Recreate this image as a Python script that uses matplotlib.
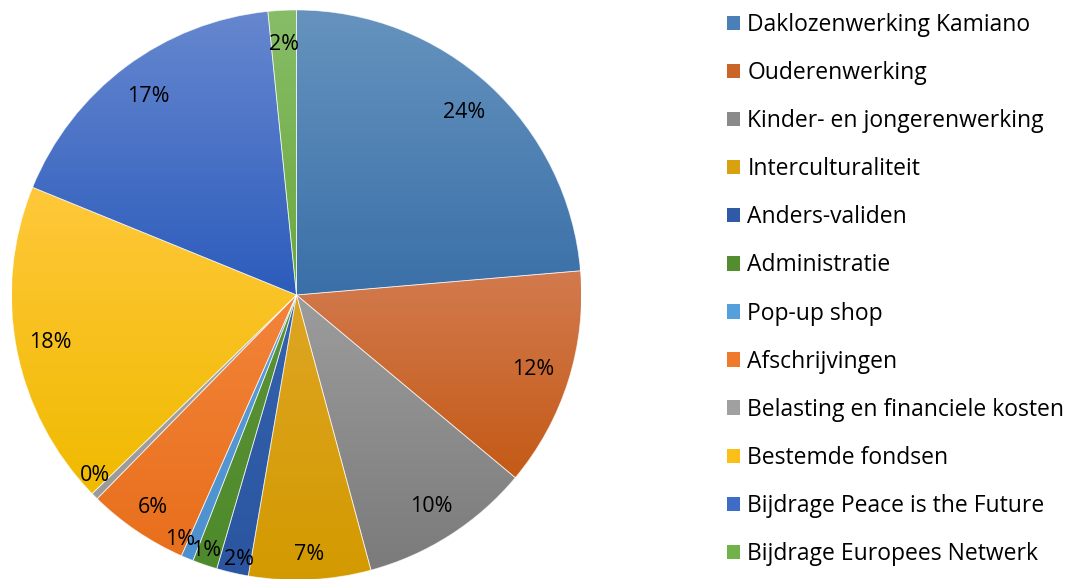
import numpy as np
import matplotlib
matplotlib.use("Agg")
import matplotlib.pyplot as plt
from matplotlib.patches import Patch
from matplotlib.colors import to_rgb

plt.rcParams['font.family'] = ['Open Sans', 'DejaVu Sans']

labels = ["Daklozenwerking Kamiano", "Ouderenwerking", "Kinder- en jongerenwerking",
          "Interculturaliteit", "Anders-validen", "Administratie", "Pop-up shop",
          "Afschrijvingen", "Belasting en financiele kosten", "Bestemde fondsen",
          "Bijdrage Peace is the Future", "Bijdrage Europees Netwerk"]
values = [23.6, 12.4, 9.7, 6.9, 1.8, 1.4, 0.7, 5.7, 0.4, 18.4, 17.2, 1.6]

# top / bottom colours of each slice's gradient
top_cols = ["#6693be", "#d27a4e", "#9c9c9c", "#dea524", "#3563ae", "#5c9337",
            "#5e9fd8", "#f3843a", "#a8a8a8", "#ffc83a", "#6687cf", "#88bd68"]
bot_cols = ["#3a70a8", "#c45a16", "#7b7b7b", "#d39a00", "#2b55a0", "#4e8a2b",
            "#4c90cf", "#e86f1c", "#9a9a9a", "#f0ba00", "#2c5cbc", "#6aa83c"]
mid_cols = ["#4a80b5", "#cb6428", "#8a8a8a", "#d9a010", "#2f5aa6", "#548d30",
            "#55a0dc", "#ef7a2b", "#a0a0a0", "#fac018", "#3e6cc6", "#72b24a"]

# label radius (fraction of pie radius) and angular nudge (deg, clockwise)
lab_r = [0.87, 0.87, 0.88, 0.91, 0.95, 0.95, 0.95, 0.90, 0.95, 0.88, 0.87, 0.88]
lab_da = [0, 0, 0, 0, -0.8, 0.8, 3, 0, 3, 0, 0, 0]

W, H = 1077, 579
fig = plt.figure(figsize=(W / 100, H / 100), dpi=100)
cx, cy, R = 296.5, 579 - 295, 285
pad = 1.02
ax = fig.add_axes([(cx - R * pad) / W, (cy - R * pad) / H, 2 * R * pad / W, 2 * R * pad / H])
ax.set_xlim(-pad, pad)
ax.set_ylim(-pad, pad)
ax.set_aspect('equal')
ax.axis('off')

wedges, _ = ax.pie(values, startangle=90, counterclock=False, radius=1,
                   colors=mid_cols, wedgeprops=dict(edgecolor='none'))

total = sum(values)
for i, w in enumerate(wedges):
    # vertical gradient clipped to the slice
    bb = w.get_path().get_extents(w.get_patch_transform())
    n = 64
    c0, c1 = np.array(to_rgb(top_cols[i])), np.array(to_rgb(bot_cols[i]))
    t = np.linspace(0, 1, n)[:, None]
    grad = (c0 * (1 - t) + c1 * t)[:, None, :]
    im = ax.imshow(grad, extent=[bb.x0, bb.x1, bb.y0, bb.y1], origin='upper',
                   aspect='auto', interpolation='bilinear', zorder=1)
    im.set_clip_path(w)
    w.set_facecolor('none')
    w.set_edgecolor((1, 1, 1, 0.6))
    w.set_linewidth(0.6)
    w.set_zorder(2)
    ang = np.deg2rad((w.theta1 + w.theta2) / 2 - lab_da[i])
    ax.text(lab_r[i] * np.cos(ang), lab_r[i] * np.sin(ang),
            f"{values[i] / total * 100:.0f}%", ha='center', va='center',
            fontsize=15.5, color='black', zorder=3)

ax.set_xlim(-pad, pad)
ax.set_ylim(-pad, pad)

handles = [Patch(facecolor=c, edgecolor='none') for c in mid_cols]
fig.legend(handles, labels, loc='upper left', bbox_to_anchor=(718 / W, 1 - 4 / H),
           frameon=False, fontsize=16.5, handlelength=0.58, handleheight=0.58,
           handletextpad=0.3, labelspacing=1.05, borderaxespad=0)

fig.savefig("out.png", dpi=100)
